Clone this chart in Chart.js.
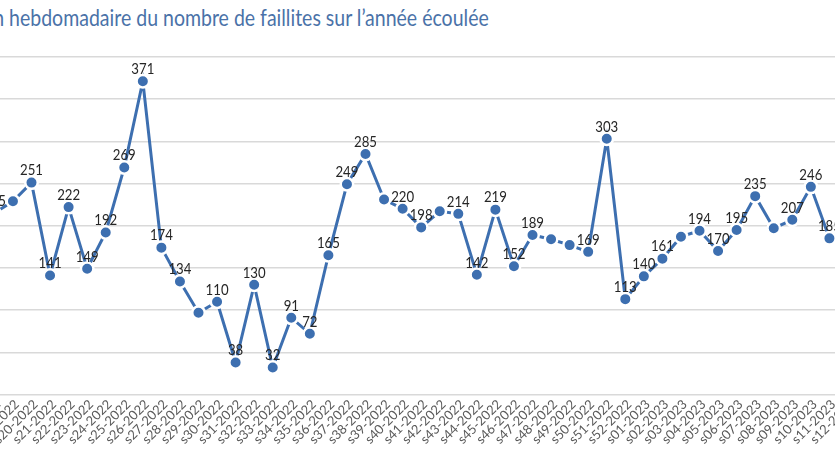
<!DOCTYPE html>
<html><head><meta charset="utf-8">
<script src="https://cdn.jsdelivr.net/npm/chart.js@4.4.0/dist/chart.umd.min.js"></script>
<style>
html,body{margin:0;padding:0;width:835px;height:467px;overflow:hidden;background:#fff;}
#c{position:absolute;left:0;top:0;}
#title{position:absolute;left:-77px;top:6px;font-family:Lato,sans-serif;font-size:23.5px;line-height:23px;color:#4a72a8;white-space:nowrap;transform:scaleX(0.83);transform-origin:0 0;}
</style></head><body>
<canvas id="c"></canvas>
<div id="title">Évolution hebdomadaire du nombre de faillites sur l’année écoulée</div>
<script>
// Categories (weeks) visible in the picture
const weeks = [
  's18-2022','s19-2022','s20-2022','s21-2022','s22-2022','s23-2022','s24-2022','s25-2022','s26-2022','s27-2022',
  's28-2022','s29-2022','s30-2022','s31-2022','s32-2022','s33-2022','s34-2022','s35-2022','s36-2022','s37-2022',
  's38-2022','s39-2022','s40-2022','s41-2022','s42-2022','s43-2022','s44-2022','s45-2022','s46-2022','s47-2022',
  's48-2022','s49-2022','s50-2022','s51-2022','s52-2022','s01-2023','s02-2023','s03-2023','s04-2023','s05-2023',
  's06-2023','s07-2023','s08-2023','s09-2023','s10-2023','s11-2023','s12-2023'
];
// Weekly number of bankruptcies
const faillites = [
  215,229,251,141,222,149,192,269,371,174,
  134,97,110,38,130,32,91,72,165,249,
  285,231,220,198,217,214,142,219,152,189,
  184,177,169,303,113,140,161,187,194,170,
  195,235,197,207,246,185,null
];
// Points whose value label is not shown in the picture
const sansEtiquette = ['s19-2022','s29-2022','s39-2022','s42-2022','s48-2022','s49-2022','s03-2023','s08-2023'];
// Value axis
const yMin = 0, yMax = 400, yStep = 50;

const BLUE = '#3d6fb0';
const canvas = document.getElementById('c');

const labelPlugin = {
  id: 'valueLabels',
  afterDatasetsDraw(chart) {
    const ctx = chart.ctx;
    const meta = chart.getDatasetMeta(0);
    ctx.save();
    ctx.font = '15px Lato, sans-serif';
    ctx.fillStyle = '#262626';
    ctx.textAlign = 'center';
    ctx.textBaseline = 'middle';
    meta.data.forEach((pt, i) => {
      if (faillites[i] == null || sansEtiquette.includes(weeks[i])) return;
      ctx.save();
      ctx.translate(pt.x, pt.y - 12);
      ctx.scale(0.88, 1);
      ctx.fillText(String(faillites[i]), 0, 0);
      ctx.restore();
    });
    ctx.restore();
  }
};

function build(W, H) {
  canvas.width = W; canvas.height = H;
  canvas.style.width = W + 'px'; canvas.style.height = H + 'px';
  return new Chart(canvas, {
    type: 'line',
    data: {
      labels: weeks,
      datasets: [{
        data: faillites,
        borderColor: BLUE,
        backgroundColor: BLUE,
        borderWidth: 3,
        pointRadius: 6.25,
        pointBorderWidth: 2.5,
        pointBackgroundColor: BLUE,
        pointBorderColor: '#ffffff',
        tension: 0,
        spanGaps: false
      }]
    },
    options: {
      responsive: false,
      maintainAspectRatio: false,
      animation: false,
      devicePixelRatio: 1,
      layout: { padding: 0 },
      plugins: { legend: { display: false }, tooltip: { enabled: false }, title: { display: false } },
      scales: {
        x: {
          grid: { display: false, drawTicks: false },
          border: { display: false },
          ticks: {
            autoSkip: false, minRotation: 45, maxRotation: 45, padding: 2, labelOffset: 4,
            color: '#595959', font: { family: 'Lato', size: 13 }
          }
        },
        y: {
          min: yMin, max: yMax,
          grid: { color: '#d9d9d9', lineWidth: 1.4, drawTicks: false },
          border: { display: false },
          ticks: { stepSize: yStep, padding: 8, color: '#595959', font: { family: 'Lato', size: 13 } }
        }
      }
    },
    plugins: [labelPlugin]
  });
}

// Target placement of the plot inside the 835x467 window (cropped view)
const T = { i1: weeks.indexOf('s21-2022'), i2: weeks.indexOf('s11-2023'), x1: 50, x2: 829, y0: 395, yTop: 58 };

let W = 1000, H = 480;
let chart = build(W, H);
function measure(c) {
  const xs = c.scales.x, ys = c.scales.y;
  return { x1: xs.getPixelForValue(T.i1), x2: xs.getPixelForValue(T.i2),
           y0: ys.getPixelForValue(yMin), yTop: ys.getPixelForValue(yMax), area: c.chartArea };
}
for (let k = 0; k < 3; k++) {
  const m = measure(chart);
  W = W + ((T.x2 - T.x1) / (m.x2 - m.x1) - 1) * (m.area.right - m.area.left);
  H = H + ((T.y0 - T.yTop) / (m.y0 - m.yTop) - 1) * (m.area.bottom - m.area.top);
  chart.destroy();
  chart = build(Math.round(W), Math.round(H));
}
const m = measure(chart);
canvas.style.left = (T.x1 - m.x1) + 'px';
canvas.style.top = (T.y0 - m.y0) + 'px';
</script>
</body></html>
